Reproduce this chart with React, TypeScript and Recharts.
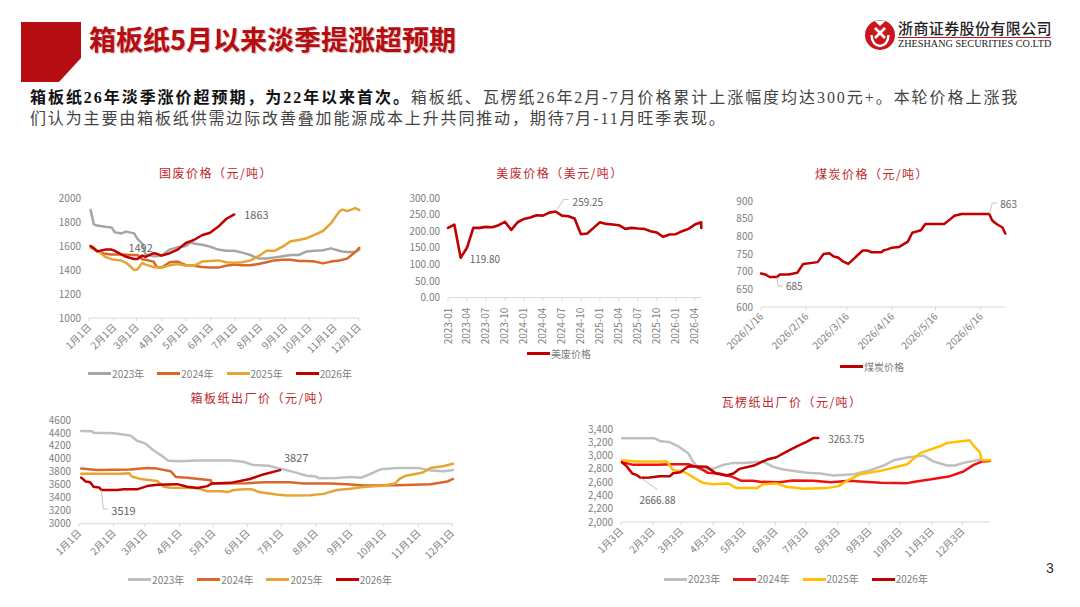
import React from "react";
import { LineChart, Line, XAxis, YAxis, Legend } from "recharts";

const SANS = '"Noto Sans CJK SC", "Noto Sans", sans-serif';
const SERIF = '"Liberation Serif", "Noto Sans CJK SC", serif';

const monthTicks = [0, 31, 59, 90, 120, 151, 181, 212, 243, 273, 304, 334];
const firstLabels = ["1月1日", "2月1日", "3月1日", "4月1日", "5月1日", "6月1日", "7月1日", "8月1日", "9月1日", "10月1日", "11月1日", "12月1日"];
const thirdLabels = ["1月3日", "2月3日", "3月3日", "4月3日", "5月3日", "6月3日", "7月3日", "8月3日", "9月3日", "10月3日", "11月3日", "12月3日"];

// 国废价格
const wasteDays = [2, 6, 10, 20, 28, 32, 40, 46, 56, 60, 66, 70, 80, 84, 90, 100, 110, 120, 126, 130, 140, 150, 160, 170, 180, 190, 200, 210, 220, 230, 240, 250, 260, 270, 280, 290, 300, 310, 314, 320, 330, 335];
const waste2023 = [1900, 1780, 1770, 1760, 1755, 1715, 1705, 1720, 1705, 1660, 1620, 1530, 1515, 1515, 1520, 1570, 1590, 1600, 1630, 1620, 1610, 1595, 1570, 1560, 1560, 1545, 1525, 1495, 1495, 1505, 1515, 1525, 1525, 1555, 1560, 1565, 1580, 1560, 1555, 1550, 1550, 1570];
const waste2024 = [1600, 1585, 1560, 1535, 1530, 1530, 1530, 1528, 1525, 1525, 1490, 1485, 1470, 1425, 1420, 1465, 1470, 1440, 1437, 1435, 1425, 1420, 1420, 1435, 1445, 1440, 1440, 1450, 1465, 1480, 1485, 1485, 1475, 1475, 1470, 1455, 1470, 1480, 1485, 1495, 1550, 1585];
const waste2025 = [1585, 1575, 1565, 1510, 1490, 1485, 1480, 1460, 1400, 1405, 1460, 1445, 1425, 1420, 1420, 1440, 1450, 1435, 1435, 1435, 1470, 1475, 1480, 1465, 1460, 1465, 1480, 1515, 1560, 1560, 1595, 1640, 1650, 1665, 1695, 1725, 1790, 1885, 1905, 1890, 1915, 1900];
const waste2026 = [1600, 1580, 1555, 1570, 1570, 1560, 1530, 1510, 1492, 1492, 1520, 1510, 1540, 1535, 1520, 1540, 1570, 1625, 1640, 1650, 1690, 1710, 1760, 1825, 1863];

// 美废价格
const usMonths = ["2023-01", "2023-04", "2023-07", "2023-10", "2024-01", "2024-04", "2024-07", "2024-10", "2025-01", "2025-04", "2025-07", "2025-10", "2026-01", "2026-04"];
const usIndex = [0, 1, 2, 3, 4, 5, 6, 7, 8, 9, 10, 11, 12, 13, 14, 15, 16, 17, 18, 19, 20, 21, 22, 23, 24, 25, 26, 27, 28, 29, 30, 31, 32, 33, 34, 35, 36, 37, 38, 39, 40, 40.02];
const usPrice = [210, 220, 119.8, 150, 210, 210, 213, 212, 218, 228, 204, 227, 237, 241, 248, 247, 256, 259.25, 247, 245, 238, 191, 193, 210, 227, 222, 220, 218, 207, 210, 208, 207, 200, 196, 183, 190, 191, 200, 207, 220, 227, 210];

// 煤炭价格
const coalTickDays = [0, 31, 59, 90, 120, 151];
const coalLabels = ["2026/1/16", "2026/2/16", "2026/3/16", "2026/4/16", "2026/5/16", "2026/6/16"];
const coalDays = [0, 3, 6, 11, 13, 19, 25, 29, 39, 43, 47, 50, 53, 56, 60, 64, 66, 70, 73, 76, 83, 84, 87, 90, 95, 97, 101, 104, 110, 113, 126, 130, 133, 138, 157, 159, 162, 166, 168];
const coalPrice = [695, 692, 685, 685, 692, 692, 697, 722, 727, 750, 752, 743, 740, 730, 722, 737, 745, 760, 760, 755, 755, 760, 763, 768, 770, 775, 785, 810, 817, 835, 835, 848, 858, 863, 863, 845, 835, 825, 808];

// 箱板纸出厂价
const boardDays2023 = [2, 12, 13, 31, 46, 52, 59, 67, 74, 80, 91, 106, 136, 147, 156, 170, 180, 192, 204, 212, 215, 231, 243, 253, 264, 270, 285, 304, 315, 327, 335];
const board2023 = [4430, 4425, 4405, 4395, 4360, 4280, 4240, 4130, 4050, 3970, 3965, 3975, 3975, 3955, 3905, 3895, 3850, 3800, 3740, 3730, 3700, 3705, 3720, 3710, 3790, 3840, 3860, 3860, 3820, 3810, 3830];
const boardDays2024 = [2, 16, 46, 61, 70, 82, 87, 97, 118, 119, 150, 165, 189, 201, 225, 240, 255, 285, 315, 330, 335];
const board2024 = [3850, 3830, 3835, 3860, 3850, 3810, 3720, 3710, 3670, 3620, 3625, 3640, 3640, 3620, 3620, 3610, 3590, 3595, 3610, 3650, 3690];
const boardDays2025 = [2, 37, 45, 47, 55, 70, 76, 82, 106, 115, 127, 133, 139, 148, 155, 161, 177, 186, 207, 219, 231, 243, 255, 273, 283, 287, 293, 308, 315, 327, 335];
const board2025 = [3770, 3770, 3780, 3730, 3690, 3660, 3570, 3555, 3550, 3500, 3500, 3490, 3520, 3530, 3530, 3490, 3450, 3435, 3440, 3460, 3520, 3540, 3565, 3590, 3620, 3690, 3740, 3790, 3860, 3890, 3925];
const boardDays2026 = [2, 6, 10, 13, 18, 20, 34, 40, 52, 61, 70, 88, 97, 106, 115, 119, 136, 153, 165, 180];
const board2026 = [3710, 3650, 3640, 3570, 3560, 3519, 3520, 3530, 3530, 3580, 3600, 3610, 3570, 3550, 3580, 3620, 3630, 3690, 3760, 3827];

// 瓦楞纸出厂价
const fluteDays2023 = [1, 33, 38, 48, 57, 66, 70, 76, 80, 90, 100, 110, 120, 139, 149, 159, 182, 195, 208, 228, 244, 257, 267, 280, 296, 306, 319, 327, 335, 352];
const flute2023 = [3260, 3260, 3220, 3200, 3130, 3030, 2920, 2800, 2790, 2800, 2860, 2890, 2890, 2910, 2830, 2790, 2740, 2730, 2700, 2720, 2780, 2850, 2930, 2970, 3000, 2910, 2850, 2850, 2890, 2940];
const fluteDays2024 = [1, 12, 35, 51, 66, 77, 85, 96, 109, 118, 129, 136, 155, 168, 188, 205, 224, 234, 254, 280, 289, 302, 322, 335, 345, 353, 361];
const flute2024 = [2900, 2860, 2860, 2870, 2870, 2810, 2740, 2730, 2680, 2620, 2620, 2605, 2600, 2625, 2620, 2600, 2620, 2610, 2590, 2585, 2610, 2640, 2690, 2760, 2860, 2910, 2920];
const fluteDays2025 = [1, 15, 45, 51, 61, 70, 80, 90, 105, 113, 133, 139, 152, 162, 178, 201, 213, 221, 234, 254, 280, 293, 312, 319, 341, 346, 351, 353, 361];
const flute2025 = [2930, 2910, 2910, 2780, 2760, 2680, 2590, 2570, 2580, 2510, 2510, 2570, 2580, 2530, 2500, 2510, 2540, 2620, 2720, 2770, 2870, 3040, 3140, 3190, 3230, 3130, 3050, 2930, 2930];
const fluteDays2026 = [1, 6, 11, 15, 19, 28, 38, 48, 51, 58, 66, 84, 93, 103, 110, 116, 130, 143, 152, 162, 172, 182, 188, 193];
const flute2026 = [2900, 2830, 2730, 2710, 2666.88, 2670, 2690, 2690, 2735, 2750, 2840, 2830, 2730, 2700, 2730, 2800, 2850, 2940, 2975, 3060, 3140, 3210, 3263.75, 3263.75];

const rows = (days: number[], values: number[]) => values.map((y, i) => ({ x: days[i], y }));

type Callout = { index: number; text: string; dx: number; dy: number; leader?: number[][] };
type Series = { name: string; color: string; days: number[]; values: number[]; callouts?: Callout[] };

const makeCalloutLabel = (callouts: Callout[], size: number) => (props: any) => {
  const c = callouts.find((k) => k.index === props.index);
  if (!c) return <g />;
  return (
    <g>
      {c.leader && (
        <polyline
          points={[[0, 0], ...c.leader].map((p) => `${props.x + p[0]},${props.y + p[1]}`).join(" ")}
          fill="none"
          stroke="#b5b5b5"
          strokeWidth={0.8}
        />
      )}
      <text x={props.x + c.dx} y={props.y + c.dy} fontSize={size} fill="#666" fontFamily={SANS} dominantBaseline="central">
        {c.text}
      </text>
    </g>
  );
};

const LegendRow = ({ payload }: any) => (
  <div style={{ display: "flex", justifyContent: "center", gap: 13, fontFamily: SANS, fontSize: 10, color: "#808080", lineHeight: "12px" }}>
    {(payload || []).map((p: any) => (
      <span key={p.value} style={{ display: "flex", alignItems: "center", gap: 1 }}>
        <span style={{ display: "inline-block", width: 23, height: 3, background: p.color }} />
        {p.value}
      </span>
    ))}
  </div>
);

type ChartProps = {
  left: number;
  right: number;
  top: number;
  bottom: number;
  legendX: number;
  legendY: number;
  title: string;
  titleX: number;
  titleY: number;
  domainX: number[];
  ticksX: number[];
  labelsX: string[];
  angle: number;
  ticksY: number[];
  formatY?: (v: number) => string;
  strokeWidth?: number;
  labelSize?: number;
  series: Series[];
};

const PriceChart = (p: ChartProps) => {
  const yAxisW = 48;
  const pad = 12;
  const xAxisH = 44;
  const boxTop = p.top - pad;
  const height = p.legendY + 14 - boxTop;
  const width = p.right - p.left + yAxisW + 30;
  const XTick = ({ x, y, payload }: any) => (
    <g transform={`translate(${x + (p.angle === -90 ? 3.5 : 3)},${y + 5})`}>
      <text transform={`rotate(${p.angle})`} textAnchor="end" fontSize={10} fill="#808080" fontFamily={SANS}>
        {p.labelsX[p.ticksX.indexOf(payload.value)]}
      </text>
    </g>
  );
  return (
    <>
      <div
        style={{
          position: "absolute",
          left: p.titleX - 120,
          width: 240,
          top: p.titleY - 10,
          height: 20,
          lineHeight: "20px",
          textAlign: "center",
          fontFamily: SANS,
          fontSize: 12,
          letterSpacing: 1.5,
          color: "#C0272D",
          whiteSpace: "nowrap",
        }}
      >
        {p.title}
      </div>
      <div style={{ position: "absolute", left: p.left - yAxisW, top: boxTop }}>
        <LineChart
          width={width}
          height={height}
          margin={{ top: pad, left: 0, right: 30, bottom: height - pad - (p.bottom - p.top) - xAxisH }}
        >
          <XAxis
            dataKey="x"
            type="number"
            domain={p.domainX}
            ticks={p.ticksX}
            interval={0}
            height={xAxisH}
            tick={<XTick />}
            tickSize={3}
            axisLine={{ stroke: "#d9d9d9" }}
            tickLine={{ stroke: "#d9d9d9" }}
          />
          <YAxis
            type="number"
            width={yAxisW}
            domain={[p.ticksY[0], p.ticksY[p.ticksY.length - 1]]}
            ticks={p.ticksY}
            interval={0}
            axisLine={false}
            tickLine={false}
            tickMargin={2}
            tickFormatter={p.formatY}
            tick={{ fontSize: 10, fill: "#808080", fontFamily: SANS }}
          />
          <Legend
            layout="horizontal"
            verticalAlign="middle"
            align="center"
            content={<LegendRow />}
            wrapperStyle={{ left: p.legendX - 200 - (p.left - yAxisW), top: p.legendY - 6 - boxTop, width: 400, height: 12 }}
          />
          {p.series.map((s) => (
            <Line
              key={s.name}
              name={s.name}
              data={rows(s.days, s.values)}
              dataKey="y"
              type="linear"
              stroke={s.color}
              strokeWidth={p.strokeWidth ?? 2.5}
              strokeLinejoin="round"
              strokeLinecap="round"
              dot={false}
              activeDot={false}
              isAnimationActive={false}
              label={s.callouts ? makeCalloutLabel(s.callouts, p.labelSize ?? 11) : false}
            />
          ))}
        </LineChart>
      </div>
    </>
  );
};

const Logo = () => (
  <svg style={{ position: "absolute", left: 862, top: 16.5 }} width={36} height={36} viewBox="0 0 36 36">
    <circle cx={18} cy={18} r={15} fill="#C8161D" />
    <path d="M12 3.5 L18 9 L24 3.5 Z" fill="#fff" />
    <path d="M13 11 L23 21 M23 11 L13 21" stroke="#fff" strokeWidth={2.6} fill="none" />
    <path d="M9.5 18 Q10 28 18 29 Q26 28 26.5 18" stroke="#fff" strokeWidth={2.4} fill="none" />
  </svg>
);

export default function App() {
  return (
    <div style={{ position: "absolute", left: 0, top: 0, width: 1080, height: 607, background: "#fff", overflow: "hidden" }}>
      <svg style={{ position: "absolute", left: 0, top: 0 }} width={100} height={100}>
        <polygon points="21,22 81,22 81,58 59,82 21,82" fill="#B50D12" />
      </svg>
      <div
        style={{
          position: "absolute",
          left: 89,
          top: 20,
          fontFamily: SANS,
          fontWeight: 700,
          fontSize: 27,
          lineHeight: "38px",
          color: "#B50D12",
          whiteSpace: "nowrap",
          textShadow: "1px 1px 1px rgba(120,0,0,0.3)",
        }}
      >
        箱板纸5月以来淡季提涨超预期
      </div>

      <Logo />
      <div style={{ position: "absolute", left: 898, top: 18, width: 156, fontFamily: SANS, fontWeight: 500, fontSize: 15, lineHeight: "20px", color: "#222", whiteSpace: "nowrap", letterSpacing: 0.4 }}>
        浙商证券股份有限公司
      </div>
      <div style={{ position: "absolute", left: 898, top: 37, width: 153, height: 1.2, background: "#C8161D" }} />
      <div style={{ position: "absolute", left: 898, top: 38, fontFamily: SERIF, fontSize: 10.2, lineHeight: "12px", color: "#222", whiteSpace: "nowrap" }}>
        ZHESHANG SECURITIES CO.LTD
      </div>

      <div style={{ position: "absolute", left: 30, top: 87, fontFamily: SERIF, fontSize: 16, lineHeight: "22px", color: "#444", whiteSpace: "nowrap", letterSpacing: 1.95 }}>
        <b style={{ color: "#111" }}>箱板纸26年淡季涨价超预期，为22年以来首次。</b>
        箱板纸、瓦楞纸26年2月-7月价格累计上涨幅度均达300元+。本轮价格上涨我
      </div>
      <div style={{ position: "absolute", left: 30, top: 108, fontFamily: SERIF, fontSize: 16, lineHeight: "22px", color: "#444", whiteSpace: "nowrap", letterSpacing: 1.85 }}>
        们认为主要由箱板纸供需边际改善叠加能源成本上升共同推动，期待7月-11月旺季表现。
      </div>

      <PriceChart
        left={88.7}
        right={359}
        top={197.7}
        bottom={317.7}
        legendX={220}
        legendY={374}
        title="国废价格（元/吨）"
        titleX={216}
        titleY={173}
        domainX={[0, 335]}
        ticksX={monthTicks}
        labelsX={firstLabels}
        angle={-45}
        ticksY={[1000, 1200, 1400, 1600, 1800, 2000]}
        series={[
          { name: "2023年", color: "#A5A5A5", days: wasteDays, values: waste2023 },
          { name: "2024年", color: "#D9662B", days: wasteDays, values: waste2024 },
          { name: "2025年", color: "#E6A532", days: wasteDays, values: waste2025 },
          {
            name: "2026年",
            color: "#C00000",
            days: wasteDays,
            values: waste2026,
            callouts: [
              { index: 9, text: "1492", dx: -9, dy: -12 },
              { index: 24, text: "1863", dx: 10, dy: 0 },
            ],
          },
        ]}
      />

      <PriceChart
        left={447.7}
        right={701}
        top={197.7}
        bottom={297.3}
        legendX={559}
        legendY={354}
        title="美废价格（美元/吨）"
        titleX={560}
        titleY={173}
        domainX={[0, 40]}
        ticksX={[0, 3, 6, 9, 12, 15, 18, 21, 24, 27, 30, 33, 36, 39]}
        labelsX={usMonths}
        angle={-90}
        ticksY={[0, 50, 100, 150, 200, 250, 300]}
        formatY={(v) => v.toFixed(2)}
        strokeWidth={2.6}
        labelSize={10}
        series={[
          {
            name: "美废价格",
            color: "#C00000",
            days: usIndex,
            values: usPrice,
            callouts: [
              { index: 2, text: "119.80", dx: 9, dy: 1 },
              { index: 17, text: "259.25", dx: 17, dy: -10, leader: [[8, -12], [13, -12]] },
            ],
          },
        ]}
      />

      <PriceChart
        left={760.7}
        right={1005}
        top={200.7}
        bottom={306.7}
        legendX={872}
        legendY={367}
        title="煤炭价格（元/吨）"
        titleX={872}
        titleY={174}
        domainX={[0, 168]}
        ticksX={coalTickDays}
        labelsX={coalLabels}
        angle={-45}
        ticksY={[600, 650, 700, 750, 800, 850, 900]}
        labelSize={10}
        series={[
          {
            name: "煤炭价格",
            color: "#C00000",
            days: coalDays,
            values: coalPrice,
            callouts: [
              { index: 3, text: "685", dx: 9, dy: 9, leader: [[1, 9], [6, 9]] },
              { index: 34, text: "863", dx: 11, dy: -11, leader: [[3, -11], [8, -11]] },
            ],
          },
        ]}
      />

      <PriceChart
        left={78.7}
        right={452.7}
        top={420.3}
        bottom={524}
        legendX={260}
        legendY={580}
        title="箱板纸出厂价（元/吨）"
        titleX={261}
        titleY={398}
        domainX={[0, 335]}
        ticksX={monthTicks}
        labelsX={firstLabels}
        angle={-45}
        ticksY={[3000, 3200, 3400, 3600, 3800, 4000, 4200, 4400, 4600]}
        series={[
          { name: "2023年", color: "#BFBFBF", days: boardDays2023, values: board2023 },
          { name: "2024年", color: "#D9662B", days: boardDays2024, values: board2024 },
          { name: "2025年", color: "#E6A532", days: boardDays2025, values: board2025 },
          {
            name: "2026年",
            color: "#C00000",
            days: boardDays2026,
            values: board2026,
            callouts: [
              { index: 5, text: "3519", dx: 10, dy: 20, leader: [[2, 19], [7, 19]] },
              { index: 19, text: "3827", dx: 4, dy: -13 },
            ],
          },
        ]}
      />

      <PriceChart
        left={621}
        right={990}
        top={429}
        bottom={522}
        legendX={796}
        legendY={579}
        title="瓦楞纸出厂价（元/吨）"
        titleX={792}
        titleY={402}
        domainX={[0, 361]}
        ticksX={monthTicks}
        labelsX={thirdLabels}
        angle={-45}
        ticksY={[2000, 2200, 2400, 2600, 2800, 3000, 3200, 3400]}
        formatY={(v) => v.toLocaleString("en-US")}
        labelSize={10}
        series={[
          { name: "2023年", color: "#BFBFBF", days: fluteDays2023, values: flute2023 },
          { name: "2024年", color: "#EE1111", days: fluteDays2024, values: flute2024 },
          { name: "2025年", color: "#FFC000", days: fluteDays2025, values: flute2025 },
          {
            name: "2026年",
            color: "#C00000",
            days: fluteDays2026,
            values: flute2026,
            callouts: [
              { index: 4, text: "2666.88", dx: -1, dy: 22, leader: [[17, 12]] },
              { index: 23, text: "3263.75", dx: 10, dy: 0 },
            ],
          },
        ]}
      />

      <div style={{ position: "absolute", left: 1046, top: 559, fontFamily: '"Liberation Sans", sans-serif', fontSize: 14, lineHeight: "18px", color: "#333" }}>3</div>
    </div>
  );
}
